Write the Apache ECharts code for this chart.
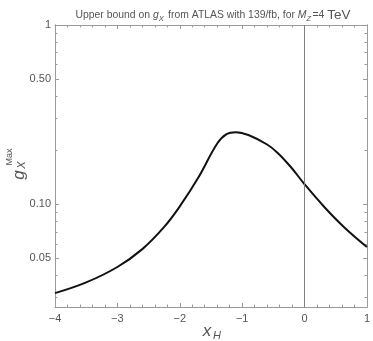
<!DOCTYPE html>
<html>
<head>
<meta charset="utf-8">
<script src="https://cdn.jsdelivr.net/npm/echarts@6/dist/echarts.min.js"></script>
<style>html,body{margin:0;padding:0;background:#fff}#c{width:373px;height:341px}</style>
</head>
<body>
<div id="c"></div>
<script>
// Data
const xH = [-4, -3.5, -3, -2.6, -2.25, -2, -1.7, -1.4, -1.25, -1.1, -0.9, -0.6, -0.43, -0.22, 0, 0.32, 0.63, 1];
const gXMax = [0.0318, 0.0365, 0.0445, 0.056, 0.0745, 0.097, 0.141, 0.218, 0.246, 0.252, 0.243, 0.215, 0.193, 0.161, 0.129, 0.096, 0.0745, 0.0575];
const yMajorTicks = [0.05, 0.1, 0.5, 1];
const yTickLabels = ['0.05', '0.10', '0.50', '1'];
const yMinorTicks = [0.03, 0.04, 0.06, 0.07, 0.08, 0.09, 0.2, 0.3, 0.4, 0.6, 0.7, 0.8, 0.9];
const xTickValues = [-4, -3, -2, -1, 0, 1];
const xTickLabels = ['\u22124', '\u22123', '\u22122', '\u22121', '0', '1'];
const yMinShown = 0.0266, yMaxShown = 1;

const L = Math.log10;
const frameColor = '#9a9a9a';
const labelColor = '#555';
const yMin = L(yMinShown), yMax = L(yMaxShown);

function yAxisDef(pos, values, len, showLabel) {
  return {
    type: 'value', position: pos, min: yMin, max: yMax,
    axisLine: {show: true, onZero: false, lineStyle: {color: frameColor, width: 1}},
    axisTick: {show: true, inside: true, length: len, customValues: values.map(L), lineStyle: {color: frameColor}},
    axisLabel: showLabel ? {
      show: true, customValues: yMajorTicks.map(L), color: labelColor, fontSize: 11,
      fontFamily: 'Liberation Sans, Arial, sans-serif', margin: 4,
      formatter: function (v) {
        for (let i = 0; i < yMajorTicks.length; i++) if (Math.abs(L(yMajorTicks[i]) - v) < 1e-6) return yTickLabels[i];
        return '';
      }
    } : {show: false},
    splitLine: {show: false}
  };
}
function xAxisDef(pos, showLabel) {
  return {
    type: 'value', position: pos, min: -4, max: 1, interval: 1,
    axisLine: {show: true, onZero: false, lineStyle: {color: frameColor, width: 1}},
    axisTick: {show: true, inside: true, length: 4, lineStyle: {color: frameColor}},
    minorTick: {show: true, splitNumber: 5, length: 2.5, lineStyle: {color: frameColor}},
    axisLabel: showLabel ? {
      show: true, color: labelColor, fontSize: 11, margin: 6,
      fontFamily: 'Liberation Sans, Arial, sans-serif',
      formatter: function (v) { const i = xTickValues.indexOf(Math.round(v)); return i >= 0 ? xTickLabels[i] : ''; }
    } : {show: false},
    splitLine: {show: false}, minorSplitLine: {show: false}
  };
}

const chart = echarts.init(document.getElementById('c'), null, {renderer: 'canvas'});
const font = 'Liberation Sans, Arial, sans-serif';
chart.setOption({
  animation: false,
  backgroundColor: '#fff',
  title: {
    text: 'Upper bound on {i|g}{sub|X} from ATLAS with 139/fb, for {i|M}{sub|Z}=4 {big|TeV}',
    left: 208, top: 3, textAlign: 'center',
    textStyle: {
      fontSize: 10.4, fontWeight: 'normal', color: labelColor, fontFamily: font,
      rich: {
        i: {fontSize: 10.4, fontStyle: 'italic', color: labelColor, fontFamily: font, lineHeight: 15},
        sub: {fontSize: 7.5, fontStyle: 'italic', color: labelColor, fontFamily: font, lineHeight: 9, verticalAlign: 'bottom', padding: [0, 1.5, 0, 0]},
        big: {fontSize: 13.5, color: labelColor, fontFamily: font, lineHeight: 15}
      }
    }
  },
  grid: {left: 55, right: 3, top: 25, bottom: 34, containLabel: false},
  xAxis: [xAxisDef('bottom', true), xAxisDef('top', false)],
  yAxis: [
    yAxisDef('left', yMajorTicks, 4, true),
    yAxisDef('left', yMinorTicks, 2.5, false),
    yAxisDef('right', yMajorTicks, 4, false),
    yAxisDef('right', yMinorTicks, 2.5, false)
  ],
  graphic: [
    {type: 'text', x: 19, y: 175, rotation: Math.PI / 2, style: {text: 'g', font: 'italic 17px ' + font, fill: labelColor, align: 'center', verticalAlign: 'middle'}},
    {type: 'text', x: 22, y: 165, rotation: Math.PI / 2, style: {text: 'X', font: 'italic 11px ' + font, fill: labelColor, align: 'center', verticalAlign: 'middle'}},
    {type: 'text', x: 10, y: 157, rotation: Math.PI / 2, style: {text: 'Max', font: '9px ' + font, fill: labelColor, align: 'center', verticalAlign: 'middle'}},
    {type: 'text', x: 207, y: 331, style: {text: 'x', font: 'italic 17px ' + font, fill: labelColor, align: 'center', verticalAlign: 'middle'}},
    {type: 'text', x: 217, y: 336, style: {text: 'H', font: 'italic 11px ' + font, fill: labelColor, align: 'center', verticalAlign: 'middle'}}
  ],
  series: [{
    type: 'line', xAxisIndex: 0, yAxisIndex: 0,
    data: xH.map((x, i) => [x, L(gXMax[i])]),
    smooth: 0.4, showSymbol: false, symbol: 'none',
    lineStyle: {color: '#111', width: 2},
    markLine: {
      silent: true, symbol: ['none', 'none'], label: {show: false},
      lineStyle: {color: '#808080', width: 1, type: 'solid'},
      data: [{xAxis: 0}]
    }
  }]
});
</script>
</body>
</html>
